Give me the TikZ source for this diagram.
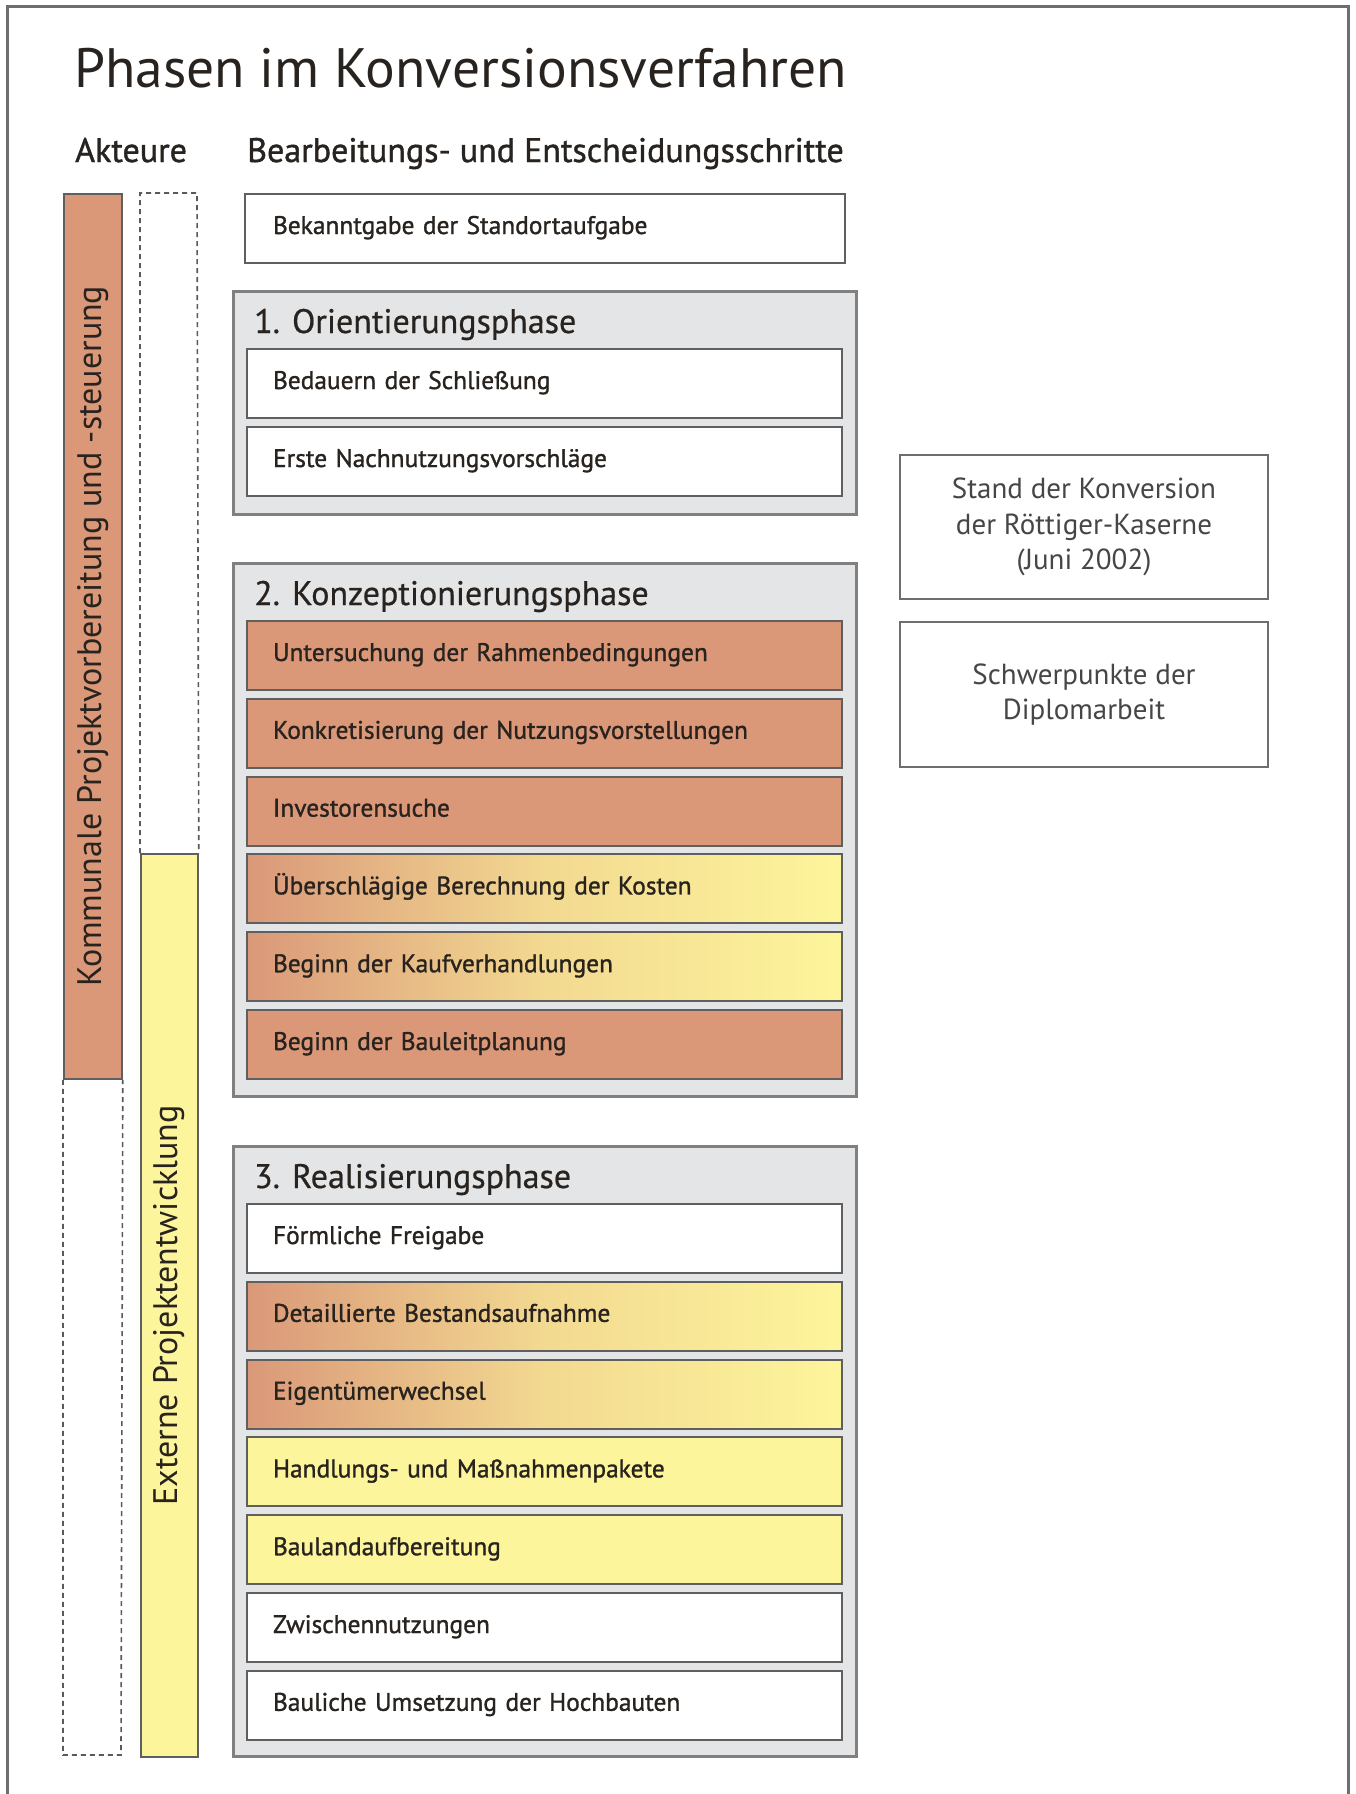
\documentclass[tikz,border=0pt]{standalone}
\usepackage{fontspec}
\setmainfont{PT Sans}
\newfontfamily\medfont[FakeBold=1.2]{PT Sans}
\newfontfamily\semfont[FakeBold=0.6]{PT Sans}
\definecolor{salm}{RGB}{218,152,121}
\definecolor{yel}{RGB}{253,245,155}
\definecolor{boxline}{RGB}{95,95,95}
\definecolor{grpfill}{RGB}{228,229,230}
\definecolor{grpline}{RGB}{128,128,128}
\definecolor{txt}{RGB}{40,35,30}
\definecolor{infotxt}{RGB}{70,70,70}
\definecolor{dashcol}{RGB}{90,90,90}
\definecolor{framecol}{RGB}{110,110,110}
\tikzset{
  stepbox/.style={draw=boxline, line width=2pt, anchor=north west, minimum height=69pt,
    text width=543pt, inner xsep=26pt, inner ysep=0pt, align=left,
    font=\medfont\fontsize{25.4}{30}\selectfont, text height=19pt, text depth=8pt, text=txt},
  whitebox/.style={stepbox, fill=white},
  salmbox/.style={stepbox, fill=salm},
  yelbox/.style={stepbox, fill=yel},
  gradbox/.style={stepbox, left color=salm, right color=yel, middle color=yel!70!salm},
  grp/.style={draw=grpline, line width=2.5pt, fill=grpfill, anchor=north west,
    minimum width=623pt, inner sep=0pt},
  ptitle/.style={anchor=base west, inner sep=0pt, font=\semfont\fontsize{34}{38}\selectfont, text=txt},
  infobox/.style={draw=framecol, line width=2pt, anchor=north west, minimum width=368pt,
    align=center, text=infotxt, font=\fontsize{29}{35.6}\selectfont},
  dashbox/.style={draw=dashcol, dash pattern=on 5pt off 4pt, line width=1.6pt},
  bartext/.style={rotate=90, inner sep=0pt, text=txt, font=\fontsize{34}{38}\selectfont}
}
\begin{document}
\begin{tikzpicture}[x=1pt,y=-1pt]
\useasboundingbox (0,0) rectangle (1356,1794);
\fill[white] (0,0) rectangle (1356,1794);
% frame
\draw[framecol, line width=3pt] (7,1794) -- (7,6) -- (1348,6) -- (1348,1794);

% headings
\node[anchor=base west, inner sep=0pt, font=\fontsize{55.5}{62}\selectfont, text=txt] (title) at (74,87) {Phasen im Konversionsverfahren};
\node[anchor=base west, inner sep=0pt, font=\medfont\fontsize{34}{38}\selectfont, text=txt] (akt) at (75,162) {Akteure};
\node[anchor=base west, inner sep=0pt, font=\medfont\fontsize{34}{38}\selectfont, text=txt] (bea) at (247,162) {Bearbeitungs- und Entscheidungsschritte};

% actor bars
\node[draw=boxline, line width=1.8pt, fill=salm, anchor=north west, minimum width=58pt, minimum height=885pt, inner sep=0pt] (kbar) at (63,193) {};
\coordinate (kbot1) at (63,1755);
\coordinate (kbot2) at (121,1755);
\draw[dashbox] (kbar.south west) -- (kbot1) -- (kbot2) -- (kbar.south east);
\node[bartext] (ktext) at (kbar.center) {Kommunale Projektvorbereitung und -steuerung};

\node[draw=boxline, line width=1.8pt, fill=yel, anchor=north west, minimum width=57pt, minimum height=903pt, inner sep=0pt] (ebar) at (140,853) {};
\coordinate (etop1) at (140,193);
\coordinate (etop2) at (197,193);
\draw[dashbox] (ebar.north west) -- (etop1) -- (etop2) -- (ebar.north east);
\node[bartext] (etext) at (ebar.center) {Externe Projektentwicklung};

% Bekanntgabe
\node[whitebox, text width=544pt, inner xsep=28pt] (bek) at (244,193) {Bekanntgabe der Standortaufgabe};

% Phase 1
\node[grp, minimum height=223pt] (g1) at (232,290) {};
\node[ptitle] (t1) at (254,333) {1. Orientierungsphase};
\node[whitebox] (p1a) at (246,348) {Bedauern der Schließung};
\node[whitebox] (p1b) at (246,426) {Erste Nachnutzungsvorschläge};

% Phase 2
\node[grp, minimum height=533pt] (g2) at (232,562) {};
\node[ptitle] (t2) at (254,605) {2. Konzeptionierungsphase};
\node[salmbox] (p2a) at (246,620) {Untersuchung der Rahmenbedingungen};
\node[salmbox] (p2b) at (246,697.8) {Konkretisierung der Nutzungsvorstellungen};
\node[salmbox] (p2c) at (246,775.6) {Investorensuche};
\node[gradbox] (p2d) at (246,853.4) {Überschlägige Berechnung der Kosten};
\node[gradbox] (p2e) at (246,931.2) {Beginn der Kaufverhandlungen};
\node[salmbox] (p2f) at (246,1009) {Beginn der Bauleitplanung};

% Phase 3
\node[grp, minimum height=610pt] (g3) at (232,1145) {};
\node[ptitle] (t3) at (254,1188) {3. Realisierungsphase};
\node[whitebox] (p3a) at (246,1203) {Förmliche Freigabe};
\node[gradbox] (p3b) at (246,1280.8) {Detaillierte Bestandsaufnahme};
\node[gradbox] (p3c) at (246,1358.6) {Eigentümerwechsel};
\node[yelbox] (p3d) at (246,1436.4) {Handlungs- und Maßnahmenpakete};
\node[yelbox] (p3e) at (246,1514.2) {Baulandaufbereitung};
\node[whitebox] (p3f) at (246,1592) {Zwischennutzungen};
\node[whitebox] (p3g) at (246,1669.8) {Bauliche Umsetzung der Hochbauten};

% info boxes
\node[infobox, minimum height=144pt] (stand) at (899,454) {Stand der Konversion\\der Röttiger-Kaserne\\(Juni 2002)};
\node[infobox, minimum height=145pt] (schwer) at (899,621) {Schwerpunkte der\\Diplomarbeit};
\end{tikzpicture}
\end{document}
